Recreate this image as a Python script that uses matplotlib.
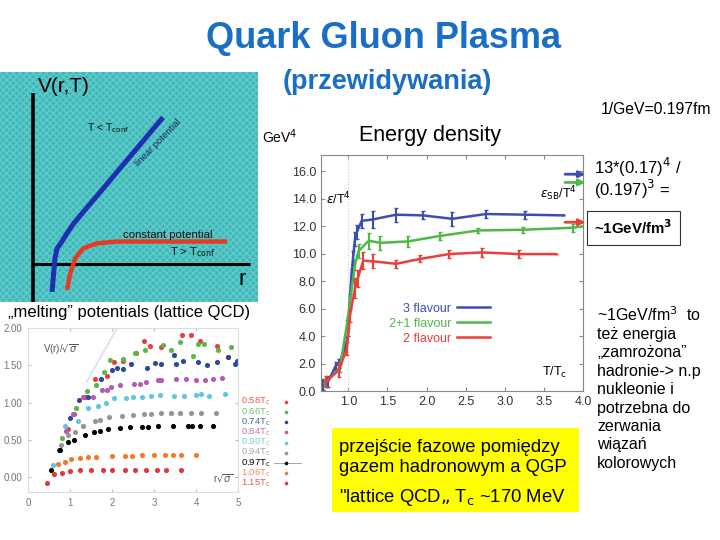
import numpy as np
import matplotlib
matplotlib.use("Agg")
import matplotlib.pyplot as plt
from matplotlib.patches import Rectangle

plt.rcParams['font.family'] = ['Liberation Sans', 'DejaVu Sans']

W, H = 720, 540

# --- schematic V(r,T) ---
r_conf = [0.74, 0.78, 0.85, 0.93, 1.12, 1.32, 1.55, 5.04]
V_conf = [-1.23, -0.66, 0.22, 0.66, 0.96, 1.32, 1.71, 6.36]
r_deconf = [1.32, 1.43, 1.63, 1.94, 2.48, 3.26, 7.52]
V_deconf = [-1.14, -0.48, 0.22, 0.66, 0.88, 0.96, 0.96]

# --- lattice QCD "melting" potentials ---
lat_labels = ['0.58', '0.66', '0.74', '0.84', '0.90', '0.94', '0.97', '1.06', '1.15']
lat_colors = ['#e8413c', '#5ab848', '#2c4a9a', '#b45ab4', '#5cc8dc',
              '#959595', '#000000', '#f07a2a', '#e0383c']
lat_r = [
    [0.95, 1.1, 1.35, 1.6, 1.87, 2.05, 2.25, 2.58, 2.75, 2.91, 3.17, 3.66, 3.87, 4.1, 4.5, 4.76],
    [0.82, 1.15, 1.4, 1.62, 1.81, 1.96, 2.26, 2.54, 2.79, 3.21, 3.41, 3.61, 3.94, 4.04, 4.18, 4.53, 4.83],
    [0.74, 0.99, 1.21, 1.43, 1.73, 2.01, 2.13, 2.25, 2.46, 2.84, 3.02, 3.17, 3.48, 3.53, 3.69, 4.04, 4.26, 4.5, 4.75, 4.92, 4.98],
    [0.9, 1.07, 1.31, 1.54, 1.76, 1.87, 1.98, 2.18, 2.52, 2.66, 2.82, 3.1, 3.17, 3.53, 3.77, 4.01, 4.21, 4.4, 4.62],
    [0.6, 0.87, 1.19, 1.43, 1.67, 1.85, 2.04, 2.34, 2.5, 2.72, 2.94, 3.14, 3.48, 3.71, 4.01, 4.12, 4.31, 4.68],
    [0.78, 0.95, 1.11, 1.31, 1.59, 1.72, 1.94, 2.23, 2.5, 2.75, 2.94, 3.17, 3.41, 3.61, 3.87, 4.11, 4.47],
    [0.54, 0.77, 0.95, 1.09, 1.35, 1.56, 1.71, 1.9, 2.2, 2.42, 2.72, 2.86, 3.1, 3.45, 3.81, 3.91, 4.09, 4.4],
    [0.71, 0.88, 1.02, 1.23, 1.43, 1.63, 2.01, 2.3, 2.48, 2.72, 2.99, 3.25, 3.45, 3.65, 3.99],
    [0.46, 0.63, 0.81, 0.99, 1.23, 1.51, 1.79, 2.01, 2.3, 2.54, 2.82, 3.06, 3.29, 3.65],
]
lat_V = [
    [0.65, 0.85, 1.07, 1.31, 1.36, 1.55, 1.56, 1.66, 1.83, 1.76, 1.74, 1.90, 1.90, 1.82, 1.76, 1.61],
    [0.53, 0.93, 1.15, 1.24, 1.41, 1.57, 1.59, 1.66, 1.71, 1.77, 1.71, 1.81, 1.62, 1.78, 1.78, 1.71, 1.74],
    [0.36, 0.79, 1.04, 1.08, 1.32, 1.43, 1.46, 1.45, 1.52, 1.47, 1.53, 1.52, 1.64, 1.52, 1.56, 1.54, 1.50, 1.55, 1.61, 1.52, 1.56],
    [0.62, 0.84, 1.08, 1.08, 1.17, 1.17, 1.21, 1.23, 1.25, 1.25, 1.28, 1.30, 1.30, 1.31, 1.31, 1.30, 1.30, 1.31, 1.33],
    [0.16, 0.68, 0.75, 0.93, 0.96, 0.99, 1.06, 1.06, 1.07, 1.08, 1.09, 1.10, 1.09, 1.09, 1.10, 1.11, 1.09, 1.11],
    [0.43, 0.57, 0.61, 0.68, 0.75, 0.77, 0.80, 0.82, 0.83, 0.85, 0.85, 0.86, 0.86, 0.86, 0.86, 0.86, 0.86],
    [0.09, 0.36, 0.47, 0.50, 0.57, 0.61, 0.62, 0.64, 0.66, 0.67, 0.67, 0.67, 0.68, 0.68, 0.69, 0.69, 0.69, 0.69],
    [0.17, 0.20, 0.24, 0.25, 0.27, 0.27, 0.28, 0.28, 0.28, 0.29, 0.29, 0.29, 0.29, 0.29, 0.29],
    [-0.08, 0.04, 0.06, 0.08, 0.09, 0.10, 0.10, 0.10, 0.10, 0.10, 0.10, 0.10, 0.10, 0.10],
]
guide_r = [1.40, 2.12]
guide_V = [1.28, 2.00]

# --- energy density ---
T_3f = [0.68, 0.74, 0.84, 0.88, 0.96, 1.0, 1.02, 1.04, 1.06, 1.085, 1.11, 1.17, 1.31, 1.61, 1.95, 2.33, 2.76, 3.26, 3.75]
e_3f = [0.44, 0.68, 1.85, 2.0, 3.1, 4.3, 6.8, 8.5, 9.7, 11.1, 11.6, 12.4, 12.5, 12.85, 12.8, 12.55, 12.9, 12.85, 12.8]
err_3f = [0.4, 0.4, 0.3, 0.3, 0.3, 0.3, 0.3, 0.4, 0.5, 0.5, 0.5, 0.5, 0.6, 0.5, 0.3, 0.5, 0.3, 0.3, 0]
T_21 = [0.70, 0.89, 0.98, 1.02, 1.085, 1.13, 1.26, 1.41, 1.76, 2.17, 2.66, 3.23, 3.87, 4.0]
e_21 = [0.56, 1.65, 4.8, 6.5, 9.2, 10.2, 10.95, 10.8, 10.9, 11.3, 11.7, 11.75, 11.9, 12.0]
err_21 = [0.3, 0.3, 0.4, 0.3, 0.4, 0.5, 0.6, 0.5, 0.4, 0.3, 0.2, 0.2, 0.3, 0]
T_2f = [0.71, 0.88, 0.98, 1.02, 1.085, 1.12, 1.19, 1.32, 1.61, 1.92, 2.29, 2.71, 3.18, 3.65]
e_2f = [0.68, 1.53, 3.1, 5.5, 7.5, 8.2, 9.5, 9.45, 9.27, 9.63, 9.98, 10.1, 9.98, 9.98]
err_2f = [0.4, 0.5, 0.5, 0.5, 0.7, 0.6, 0.6, 0.5, 0.3, 0.25, 0.3, 0.3, 0.3, 0]
sb_limits = [15.8, 15.2, 12.3]
flav_colors = ['#3a4fb0', '#4fb848', '#e8403a']
flav_labels = ['3 flavour', '2+1 flavour', '2 flavour']


def px_axes(x0, y0, x1, y1):
    return fig.add_axes([x0 / W, 1 - y1 / H, (x1 - x0) / W, (y1 - y0) / H])


def px_text(x, y, s, **kw):
    return fig.text(x / W, 1 - y / H, s, **kw)


fig = plt.figure(figsize=(7.2, 5.4), dpi=100)

# tytul
px_text(384, 38, 'Quark Gluon Plasma', ha='center', va='center', fontsize=26,
        fontweight='bold', color='#1a6fc4')
px_text(387, 82, '(przewidywania)', ha='center', va='center', fontsize=19.5,
        fontweight='bold', color='#1a6fc4')

# panel 1: schemat potencjalu
ax1 = px_axes(0, 72, 258, 302)
ax1.set_xlim(-1.28, 8.72)
ax1.set_ylim(-1.67, 8.33)
ax1.set_facecolor('#3db8b8')
ax1.add_patch(Rectangle((0, 0), 1, 1, transform=ax1.transAxes, facecolor='none',
                        edgecolor='#62caca', hatch='xxxxx', lw=0))
ax1.plot([0, 0], [-1.7, 7.41], color='k', lw=2.6, solid_capstyle='butt')
ax1.plot([0, 8.41], [0, 0], color='k', lw=2.2, solid_capstyle='butt')
ax1.plot(r_conf, V_conf, color='#1f2fb0', lw=3.6, solid_capstyle='butt')
ax1.plot(r_deconf, V_deconf, color='#e83a1e', lw=3.2, solid_capstyle='butt')
ax1.text(0.2, 7.68, 'V(r,T)', fontsize=15, va='center')
ax1.text(7.95, -0.7, 'r', fontsize=16, va='center')
ax1.text(2.1, 5.9, r'T < T$_{\rm conf}$', fontsize=7.5, va='center', color='#111111')
ax1.text(4.84, 5.26, 'linear potential', fontsize=6.8, rotation=46, ha='center',
         va='center', color='#1a2a60')
ax1.text(3.49, 1.23, 'constant potential', fontsize=8.2, va='center', color='#111111')
ax1.text(5.3, 0.48, r'T > T$_{\rm conf}$', fontsize=8, va='center', color='#111111')
ax1.set_xticks([])
ax1.set_yticks([])
for sp in ax1.spines.values():
    sp.set_visible(False)

# panel 2: lattice QCD
px_text(8, 313, '\u201emelting\u201d potentials (lattice QCD)', fontsize=12, va='center')
ax2 = px_axes(28, 328, 238, 492)
ax2.set_xlim(0, 5)
ax2.set_ylim(-0.2, 2.0)
ax2.plot(guide_r, guide_V, color='#e4e4e4', lw=1.5)
for i in range(len(lat_labels)):
    ax2.plot(lat_r[i], lat_V[i], 'o', ms=3.7, mec='none', color=lat_colors[i])
    yy = 1 - (401.7 + 10.2 * i - 328) / 164
    ax2.text(1.015, yy, lat_labels[i] + r'T$_{\rm c}$', transform=ax2.transAxes,
             fontsize=6.8, color=lat_colors[i], va='center', clip_on=False,
             alpha=0.85 if i != 6 else 1)
    if i == 6:
        ax2.plot([1.17, 1.3], [yy, yy], transform=ax2.transAxes, color='#999999',
                 lw=0.6, clip_on=False)
    ax2.plot([1.23], [yy], 'o', ms=2.6, mec='none', color=lat_colors[i],
             transform=ax2.transAxes, clip_on=False)
ax2.text(0.07, 0.85, r'V(r)/$\sqrt{\sigma}$', transform=ax2.transAxes, fontsize=7,
         color='#555555')
ax2.text(0.88, 0.06, r'r$\sqrt{\sigma}$', transform=ax2.transAxes, fontsize=7,
         color='#555555')
ax2.set_xticks([0, 1, 2, 3, 4, 5])
ax2.set_yticks([0, 0.5, 1.0, 1.5, 2.0])
ax2.set_yticklabels(['%.2f' % v for v in [0, 0.5, 1.0, 1.5, 2.0]])
ax2.tick_params(direction='in', length=2, color='#bbbbbb', labelsize=7,
                labelcolor='#777777', top=True, right=True, pad=4)
for sp in ax2.spines.values():
    sp.set_color('#dddddd')

# panel 3: gestosc energii
px_text(280, 137, 'GeV$^4$', fontsize=10, ha='center', va='center')
px_text(430, 136, 'Energy density', fontsize=15.5, ha='center', va='center')
ax3 = px_axes(321, 155, 583, 391)
ax3.set_xlim(0.65, 4.0)
ax3.set_ylim(0, 17.2)
ax3.axvline(1.0, color='#cccccc', lw=0.8, ls=':')
series = [(T_3f, e_3f, err_3f), (T_21, e_21, err_21), (T_2f, e_2f, err_2f)]
for (T, e, err), c, lab in zip(series, flav_colors, flav_labels):
    ax3.plot(T, e, color=c, lw=1.8, label=lab)
    ax3.errorbar(T, e, yerr=err, fmt='none', ecolor=c, elinewidth=1.5, capsize=1.5,
                 capthick=1)
for y, c in zip(sb_limits, flav_colors):
    ax3.annotate('', xy=(4.03, y), xytext=(3.77, y), annotation_clip=False,
                 arrowprops=dict(arrowstyle='-|>', color=c, lw=2, mutation_scale=9,
                                 shrinkA=0, shrinkB=0))
leg = ax3.legend(markerfirst=False, labelcolor='linecolor', frameon=False,
                 loc='center right', bbox_to_anchor=(0.668, 0.285), borderpad=0,
                 handlelength=2.6, labelspacing=0.25, handletextpad=0.5,
                 prop={'size': 9})
ax3.text(0.02, 0.79, r'$\varepsilon$/T$^4$', transform=ax3.transAxes, fontsize=9)
ax3.text(0.836, 0.835, r'$\varepsilon_{\rm SB}$/T$^4$', transform=ax3.transAxes,
         fontsize=9, va='center')
ax3.text(0.845, 0.065, r'T/T$_{\rm c}$', transform=ax3.transAxes, fontsize=9)
ax3.set_xticks([1.0, 1.5, 2.0, 2.5, 3.0, 3.5, 4.0])
ax3.set_xticklabels(['%.1f' % v for v in [1.0, 1.5, 2.0, 2.5, 3.0, 3.5, 4.0]])
ax3.set_yticks(np.arange(0, 17, 2))
ax3.set_yticklabels(['%.1f' % v for v in np.arange(0, 17, 2)])
ax3.tick_params(direction='in', length=3, color='#888888', labelsize=9,
                labelcolor='#333333', top=True, right=True)
for sp in ax3.spines.values():
    sp.set_color('#888888')

# teksty po prawej
px_text(601, 110, '1/GeV=0.197fm', fontsize=11.3, va='center')
px_text(594, 167, '13*(0.17)$^4$ /', fontsize=12, va='center')
px_text(594, 189, '(0.197)$^3$ =', fontsize=12, va='center')
px_text(594, 228, '~1GeV/fm$^\\mathbf{3}$', fontsize=10.8, va='center', fontweight='bold',
        bbox=dict(boxstyle='square,pad=0.5', fc='white', ec='#333333', lw=0.8))
px_text(597, 305, '~1GeV/fm$^3$  to\nte\u017c energia\n\u201ezamro\u017cona\u201d\n'
        'hadronie-> n.p\nnukleonie i\npotrzebna do\nzerwania\nwi\u0105za\u0144\nkolorowych',
        fontsize=11.5, va='top', linespacing=1.28)

fig.patches.append(Rectangle((332 / W, 1 - 512 / H), (579 - 332) / W, (512 - 428) / H,
                             transform=fig.transFigure, facecolor='#ffff00', edgecolor='none',
                             zorder=-1))
px_text(339, 447, 'przej\u015bcie fazowe pomi\u0119dzy', fontsize=13.3, va='center')
px_text(339, 467, 'gazem hadronowym a QGP', fontsize=13.3, va='center')
px_text(339, 498, '"lattice QCD\u201e T$_{\\rm c}$ ~170 MeV', fontsize=13.3, va='center')

plt.savefig('out.png', dpi=100)
